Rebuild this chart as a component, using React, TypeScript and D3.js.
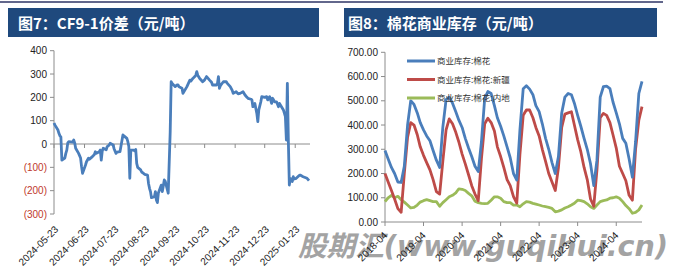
import React from "react";
import * as d3 from "d3";

// ---------- Left chart: CF9-1 spread ----------
const spreadDates = [
  "2024-05-23","2024-05-24","2024-05-27","2024-05-28","2024-05-29","2024-05-30","2024-05-31",
  "2024-06-03","2024-06-04","2024-06-05","2024-06-06","2024-06-07","2024-06-11","2024-06-12","2024-06-13","2024-06-14",
  "2024-06-17","2024-06-19","2024-06-20","2024-06-21","2024-06-24","2024-06-25","2024-06-27","2024-06-28",
  "2024-07-01","2024-07-03","2024-07-04","2024-07-05","2024-07-08","2024-07-09","2024-07-10","2024-07-11","2024-07-12",
  "2024-07-15","2024-07-16","2024-07-18","2024-07-19","2024-07-22","2024-07-23","2024-07-25","2024-07-26","2024-07-29","2024-07-30",
  "2024-08-01","2024-08-02","2024-08-05","2024-08-06","2024-08-07","2024-08-08","2024-08-09","2024-08-12","2024-08-13","2024-08-14",
  "2024-08-15","2024-08-16","2024-08-19","2024-08-20","2024-08-22","2024-08-23","2024-08-26","2024-08-27","2024-08-28","2024-08-29","2024-08-30",
  "2024-09-02","2024-09-03","2024-09-04","2024-09-05","2024-09-06","2024-09-09","2024-09-10","2024-09-11","2024-09-12","2024-09-13",
  "2024-09-16","2024-09-18","2024-09-19","2024-09-20","2024-09-23","2024-09-24","2024-09-25","2024-09-26","2024-09-27","2024-09-30",
  "2024-10-01","2024-10-05","2024-10-08","2024-10-09","2024-10-11","2024-10-13","2024-10-14","2024-10-15","2024-10-16","2024-10-18",
  "2024-10-21","2024-10-23","2024-10-25","2024-10-28","2024-10-30","2024-10-31",
  "2024-11-04","2024-11-05","2024-11-06","2024-11-07","2024-11-08","2024-11-11","2024-11-14","2024-11-15","2024-11-18","2024-11-20",
  "2024-11-21","2024-11-24","2024-11-26","2024-11-28",
  "2024-12-01","2024-12-03","2024-12-05","2024-12-06","2024-12-09","2024-12-10","2024-12-11","2024-12-13","2024-12-15","2024-12-16",
  "2024-12-17","2024-12-19","2024-12-20","2024-12-23","2024-12-25","2024-12-26","2024-12-28","2024-12-30","2024-12-31",
  "2025-01-02","2025-01-04","2025-01-06","2025-01-07","2025-01-09","2025-01-11","2025-01-13","2025-01-14","2025-01-15","2025-01-16",
  "2025-01-17","2025-01-18","2025-01-20","2025-01-21","2025-01-22","2025-01-24","2025-01-27","2025-01-28","2025-01-31",
  "2025-02-04","2025-02-06",
];
const spreadValues = [
  90, 81, 60, 46, 35, 30, -69,
  -60, -40, -26, 5, 10, 8, 17, 5, -18,
  -40, -60, -97, -126, -90, -76, -61, -65,
  -54, -45, -33, -40, -33, -26, -69, -30, -18,
  -25, -11, -5, 3, -4, -20, -40, -35, -33, -10,
  39, 35, 24, 10, -11, -147, -26, -26, -30, -23,
  -83, -100, -111, -120, -126, -130, -133, -169, -190, -204, -230,
  -226, -204, -240, -251, -210, -176, -204, -180, -154, -160,
  -211, 50, 267, 260, 246, 250, 253, 253, 245, 239,
  217, 246, 274, 270, 281, 289, 295, 310, 295, 281,
  267, 275, 289, 274, 265, 253,
  253, 260, 289, 239, 250, 267, 267, 260, 246, 230,
  217, 224, 215, 217,
  224, 210, 200, 196, 192, 189, 160, 174, 131, 96,
  146, 180, 203, 200, 203, 189, 203, 174, 196,
  181, 181, 160, 174, 160, 146, 117, 17, 260, 17,
  -176, -147, -161, -140, -150, -147, -135, -133, -140,
  -147, -157,
];
const spreadTicksY = [400, 300, 200, 100, 0, -100, -200, -300];
const spreadTickDates = [
  "2024-05-23","2024-06-23","2024-07-23","2024-08-23","2024-09-23",
  "2024-10-23","2024-11-23","2024-12-23","2025-01-23",
];

// ---------- Right chart: cotton commercial stocks (monthly from 2018-04) ----------
const stockStart = "2018-04-01";
const stockTotal = [
  295, 260, 225, 200, 165, 163, 230, 400, 500, 485, 450, 410,
  380, 355, 335, 295, 255, 225, 390, 505, 515, 490, 455, 420,
  390, 345, 305, 270, 230, 208, 330, 510, 538, 530, 480, 430,
  395, 355, 310, 265, 200, 173, 380, 550, 562, 548, 525, 480,
  455, 405, 345, 300, 245, 200, 270, 450, 515, 530, 525, 490,
  440, 395, 345, 300, 240, 150, 255, 515, 558, 560, 550, 495,
  450, 405, 345, 325, 260, 185, 330, 530, 580,
];
const stockXinjiang = [
  200, 165, 130, 95, 55, 40, 200, 350, 410, 400, 360, 310,
  275, 245, 215, 175, 125, 115, 250, 380, 425, 405, 370, 330,
  280, 240, 195, 150, 115, 88, 260, 405, 428, 410, 375, 310,
  270, 225, 175, 150, 105, 78, 280, 440, 462, 462, 430, 390,
  355, 300, 250, 200, 165, 130, 225, 390, 445, 450, 455, 400,
  340, 290, 225, 175, 95, 65, 215, 430, 448, 440, 410, 360,
  305, 230, 200, 170, 110, 90, 300, 420, 476,
];
const stockInland = [
  84, 100, 110, 100, 106, 92, 82, 70, 58, 60, 70, 82,
  88, 92, 88, 84, 84, 65, 80, 92, 104, 110, 120, 137,
  135, 130, 118, 108, 86, 80, 77, 76, 77, 90, 104, 104,
  98, 84, 80, 80, 70, 70, 63, 75, 84, 82, 77, 74,
  70, 66, 63, 60, 56, 42, 45, 50, 58, 63, 70, 77,
  90, 88, 84, 75, 63, 56, 70, 84, 88, 91, 98, 100,
  104, 98, 84, 68, 55, 36, 40, 50, 70,
];
const stockSeriesNames = ["商业库存:棉花", "商业库存:棉花:新疆", "商业库存:棉花:内地"];
const stockColors = ["#4a7ebb", "#be4b48", "#9bbb59"];
const stockTicksY = [0, 100, 200, 300, 400, 500, 600, 700];
const stockTickDates = ["2018-04-01","2019-04-01","2020-04-01","2021-04-01","2022-04-01","2023-04-01","2024-04-01"];

const titleLeft = "图7：CF9-1价差（元/吨）";
const titleRight = "图8：棉花商业库存（元/吨）";
const watermark = "股期汇(www.guqihui.cn)";

const parse = d3.utcParse("%Y-%m-%d");
const AXIS = "#8c8c8c";
const FONT = "'Liberation Sans', Arial, sans-serif";

export default function App() {
  // left scales
  const lx = d3.scaleUtc().domain([parse("2024-05-23")!, parse("2025-02-07")!]).range([54, 310]);
  const ly = d3.scaleLinear().domain([-300, 400]).range([214, 50.7]);
  const spreadData = spreadDates.map((d, i) => ({ date: parse(d)!, v: spreadValues[i] }));
  const spreadLine = d3.line<{ date: Date; v: number }>().x((d) => lx(d.date)).y((d) => ly(d.v));

  // right scales
  const start = parse(stockStart)!;
  const months = stockTotal.map((_, i) => d3.utcMonth.offset(start, i));
  const rx = d3.scaleUtc().domain([start, months[months.length - 1]]).range([385, 642]);
  const ry = d3.scaleLinear().domain([0, 700]).range([222, 52.3]);
  const series = [stockTotal, stockXinjiang, stockInland];
  const stockLine = d3.line<number>().x((_, i) => rx(months[i])).y((d) => ry(d));

  const fmtNeg = (v: number) => (v < 0 ? `(${Math.abs(v)})` : `${v}`);

  return (
    <svg width={688} height={279} style={{ display: "block", position: "absolute", left: 0, top: 0 }}>
      <rect width={688} height={279} fill="#fff" />
      <line x1={0} x2={663} y1={2} y2={2} stroke="#2e3566" strokeWidth={1.5} />
      {/* title bars */}
      <rect x={8} y={8} width={311} height={29} fill="#1f497d" />
      <rect x={344} y={8} width={313} height={29} fill="#1f497d" />
      <text x={18} y={29} fill="#fff" fontSize={15} fontWeight="bold" fontFamily="'Noto Sans CJK SC', sans-serif">{titleLeft}</text>
      <text x={348} y={29} fill="#fff" fontSize={15} fontWeight="bold" fontFamily="'Noto Sans CJK SC', sans-serif">{titleRight}</text>

      {/* watermark */}
      <text x={298} y={256} fontSize={28} fontWeight="bold" fontStyle="italic" fill="#a3a3a3"
        fontFamily="'DejaVu Sans', 'Noto Sans CJK SC', sans-serif" textLength={370} lengthAdjust="spacingAndGlyphs">{watermark}</text>

      {/* ---------- left chart ---------- */}
      <g fontFamily={FONT} fontSize={10}>
        <line x1={54} x2={54} y1={ly(400)} y2={ly(-300)} stroke={AXIS} />
        {spreadTicksY.map((t) => (
          <g key={t}>
            <line x1={50} x2={54} y1={ly(t)} y2={ly(t)} stroke={AXIS} />
            <text x={47} y={ly(t) + 3.5} textAnchor="end" fill={t < 0 ? "#c0392b" : "#222"}>{fmtNeg(t)}</text>
          </g>
        ))}
        <line x1={54} x2={310} y1={ly(0)} y2={ly(0)} stroke={AXIS} />
        {spreadTickDates.map((d) => {
          const x = lx(parse(d)!);
          return (
            <g key={d}>
              <line x1={x} x2={x} y1={ly(0)} y2={ly(0) + 4} stroke={AXIS} />
              <text transform={`translate(${x + 5},${ly(-300) + 16}) rotate(-45)`} textAnchor="end" fill="#222">{d}</text>
            </g>
          );
        })}
        <path d={spreadLine(spreadData) ?? ""} fill="none" stroke="#4a7ebb" strokeWidth={2.8} strokeLinejoin="round" />
      </g>

      {/* ---------- right chart ---------- */}
      <g fontFamily={FONT} fontSize={10}>
        <line x1={385} x2={385} y1={ry(700)} y2={ry(0)} stroke={AXIS} />
        {stockTicksY.map((t) => (
          <g key={t}>
            <line x1={381} x2={385} y1={ry(t)} y2={ry(t)} stroke={AXIS} />
            <text x={378} y={ry(t) + 3.5} textAnchor="end" fill="#222">{t.toFixed(2)}</text>
          </g>
        ))}
        <line x1={385} x2={642} y1={ry(0)} y2={ry(0)} stroke={AXIS} />
        {stockTickDates.map((d) => {
          const x = rx(parse(d)!);
          return (
            <g key={d}>
              <line x1={x} x2={x} y1={ry(0)} y2={ry(0) + 4} stroke={AXIS} />
              <text transform={`translate(${x + 3},${ry(0) + 14}) rotate(-45)`} textAnchor="end" fill="#222">{d.slice(0, 7)}</text>
            </g>
          );
        })}
        {[2, 1, 0].map((k) => (
          <path key={k} d={stockLine(series[k]) ?? ""} fill="none" stroke={stockColors[k]} strokeWidth={2.8} strokeLinejoin="round" />
        ))}
        {stockSeriesNames.map((n, i) => {
          const y = [61, 79.5, 98][i];
          return (
            <g key={n}>
              <line x1={407} x2={435} y1={y} y2={y} stroke={stockColors[i]} strokeWidth={3} />
              <text x={437} y={y + 3} fontSize={8.5} fill="#333" fontFamily="'Noto Sans CJK SC', sans-serif">{n}</text>
            </g>
          );
        })}
      </g>
    </svg>
  );
}
